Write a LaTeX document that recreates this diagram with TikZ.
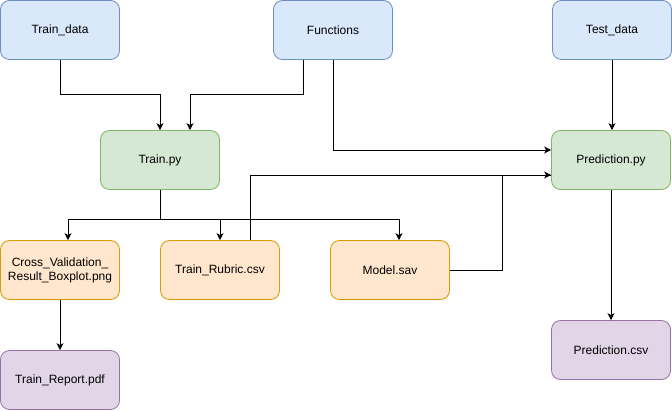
\documentclass[tikz,border=0pt]{standalone}
\usepackage{fontspec}
\setmainfont{Liberation Sans}
\usetikzlibrary{arrows.meta,calc}
\definecolor{bfill}{HTML}{DAE8FC}\definecolor{bdraw}{HTML}{6C8EBF}
\definecolor{gfill}{HTML}{D5E8D4}\definecolor{gdraw}{HTML}{82B366}
\definecolor{ofill}{HTML}{FFE6CC}\definecolor{odraw}{HTML}{D79B00}
\definecolor{pfill}{HTML}{E1D5E7}\definecolor{pdraw}{HTML}{9673A6}
\begin{document}
\begin{tikzpicture}[x=1pt,y=-1pt,
  box/.style={rectangle,rounded corners=9pt,minimum width=119pt,minimum height=59pt,inner sep=0pt,line width=0.8pt,font=\fontsize{12}{14}\selectfont,align=center},
  bluebox/.style={box,fill=bfill,draw=bdraw},
  greenbox/.style={box,fill=gfill,draw=gdraw},
  orangebox/.style={box,fill=ofill,draw=odraw},
  purplebox/.style={box,fill=pfill,draw=pdraw},
  arr/.style={line width=0.8pt,-{Stealth[length=7pt,width=7pt,inset=2pt]}},
  ln/.style={line width=0.8pt}]
\useasboundingbox (0,0) rectangle (672,411);
\node[bluebox] (td) at (60,30) {Train\_data};
\node[bluebox] (fn) at (333,30) {Functions};
\node[bluebox] (ts) at (612,30) {Test\_data};
\node[greenbox] (tp) at (160,160) {Train.py};
\node[greenbox] (pp) at (611,160) {Prediction.py};
\node[orangebox] (cv) at (60,270) {Cross\_Validation\_\\Result\_Boxplot.png};
\node[orangebox] (tr) at (220,270) {Train\_Rubric.csv};
\node[orangebox] (ms) at (390,270) {Model.sav};
\node[purplebox] (rp) at (60,380) {Train\_Report.pdf};
\node[purplebox] (pc) at (611,350) {Prediction.csv};

\draw[arr] (td.south) -- ++(0,35) -| (tp.north);
\draw[arr] ([xshift=-30pt]fn.south) -- ++(0,35) -| ([xshift=30pt]tp.north);
\draw[arr] (fn.south) |- ([yshift=10pt]pp.west);
\draw[arr] (tp.south) -- ++(0,30) -| ([xshift=8pt]cv.north);
\draw[arr] (tp.south) -- ++(0,30) -| (tr.north);
\draw[arr] (tp.south) -- ++(0,30) -| ([xshift=9pt]ms.north);
\draw[arr] ([xshift=30pt]tr.north) |- ([yshift=-15pt]pp.west);
\draw[ln] (ms.east) -- ++(52,0) |- ([yshift=-15pt]pp.west);
\draw[arr] (ts.south) -- (ts.south |- pp.north);
\draw[arr] (pp.south) -- (pc.north);
\draw[arr] (cv.south) -- (rp.north);
\end{tikzpicture}
\end{document}
